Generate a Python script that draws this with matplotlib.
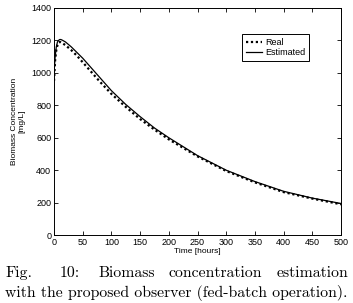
import matplotlib
matplotlib.use("Agg")
import matplotlib.pyplot as plt

t = [0, 2, 4, 6, 8, 10, 12, 15, 20, 30, 40, 50, 60, 80, 100, 125, 150, 175,
     200, 250, 300, 350, 400, 450, 500]
real = [950, 1080, 1140, 1170, 1185, 1190, 1188, 1182, 1170, 1140, 1105, 1065,
        1025, 945, 870, 790, 715, 650, 590, 485, 395, 325, 265, 225, 190]
estimated = [1000, 1100, 1160, 1190, 1200, 1205, 1205, 1200, 1190, 1160, 1125,
             1090, 1050, 970, 890, 805, 730, 660, 600, 490, 400, 330, 270, 228, 195]
xticks = [0, 50, 100, 150, 200, 250, 300, 350, 400, 450, 500]
yticks = [0, 200, 400, 600, 800, 1000, 1200, 1400]
caption1 = ['Fig.', '10:', 'Biomass', 'concentration', 'estimation']
caption2 = 'with the proposed observer (fed-batch operation).'

plt.rcParams['font.family'] = ['Liberation Sans', 'DejaVu Sans']
fig = plt.figure(figsize=(3.53, 3.03), dpi=100)
ax = fig.add_axes([0.153, 0.224, 0.813, 0.750])
ax.plot(t, real, color='black', linestyle=(0, (1, 1.2)), linewidth=1.6, label='Real')
ax.plot(t, estimated, color='black', linestyle='-', linewidth=0.9, label='Estimated')
ax.set_xlim(0, 500)
ax.set_ylim(0, 1400)
ax.set_xticks(xticks)
ax.set_yticks(yticks)
ax.tick_params(direction='in', length=3, width=0.6, labelsize=6.5, pad=2,
               top=True, right=True)
for s in ax.spines.values():
    s.set_linewidth(0.7)
ax.set_xlabel('Time [hours]', fontsize=6, labelpad=1)
ax.set_ylabel('Biomass Concentration\n[mg/L]', fontsize=6, labelpad=4, linespacing=1.1)
leg = ax.legend(loc='upper right', bbox_to_anchor=(0.905, 0.905), fontsize=6.5,
                frameon=True, fancybox=False, edgecolor='black', framealpha=1,
                handlelength=1.8, handletextpad=0.3, borderpad=0.45, labelspacing=0.15)
leg.get_frame().set_linewidth(0.7)

W, H = 353.0, 303.0
left_px, right_px = 5.0, 348.0
cap_font = dict(fontsize=11.3, family=['cmr10', 'DejaVu Serif'], va='baseline')
fig.canvas.draw()
renderer = fig.canvas.get_renderer()
texts = [fig.text(0, 1 - 277 / H, w, ha='left', **cap_font) for w in caption1]
widths = [tx.get_window_extent(renderer).width for tx in texts]
gap_weights = [2.0, 1.3, 1.0, 1.0]
free = (right_px - left_px) - sum(widths)
unit = free / sum(gap_weights)
x = left_px
for i, tx in enumerate(texts):
    tx.set_x(x / W)
    x += widths[i]
    if i < len(gap_weights):
        x += unit * gap_weights[i]
line2 = fig.text(left_px / W, 1 - 297 / H, caption2, ha='left', **cap_font)
w2 = line2.get_window_extent(renderer).width
if w2 > 0:
    line2.set_fontsize(11.3 * (right_px - left_px) / w2)
fig.savefig('out.png', dpi=100)
